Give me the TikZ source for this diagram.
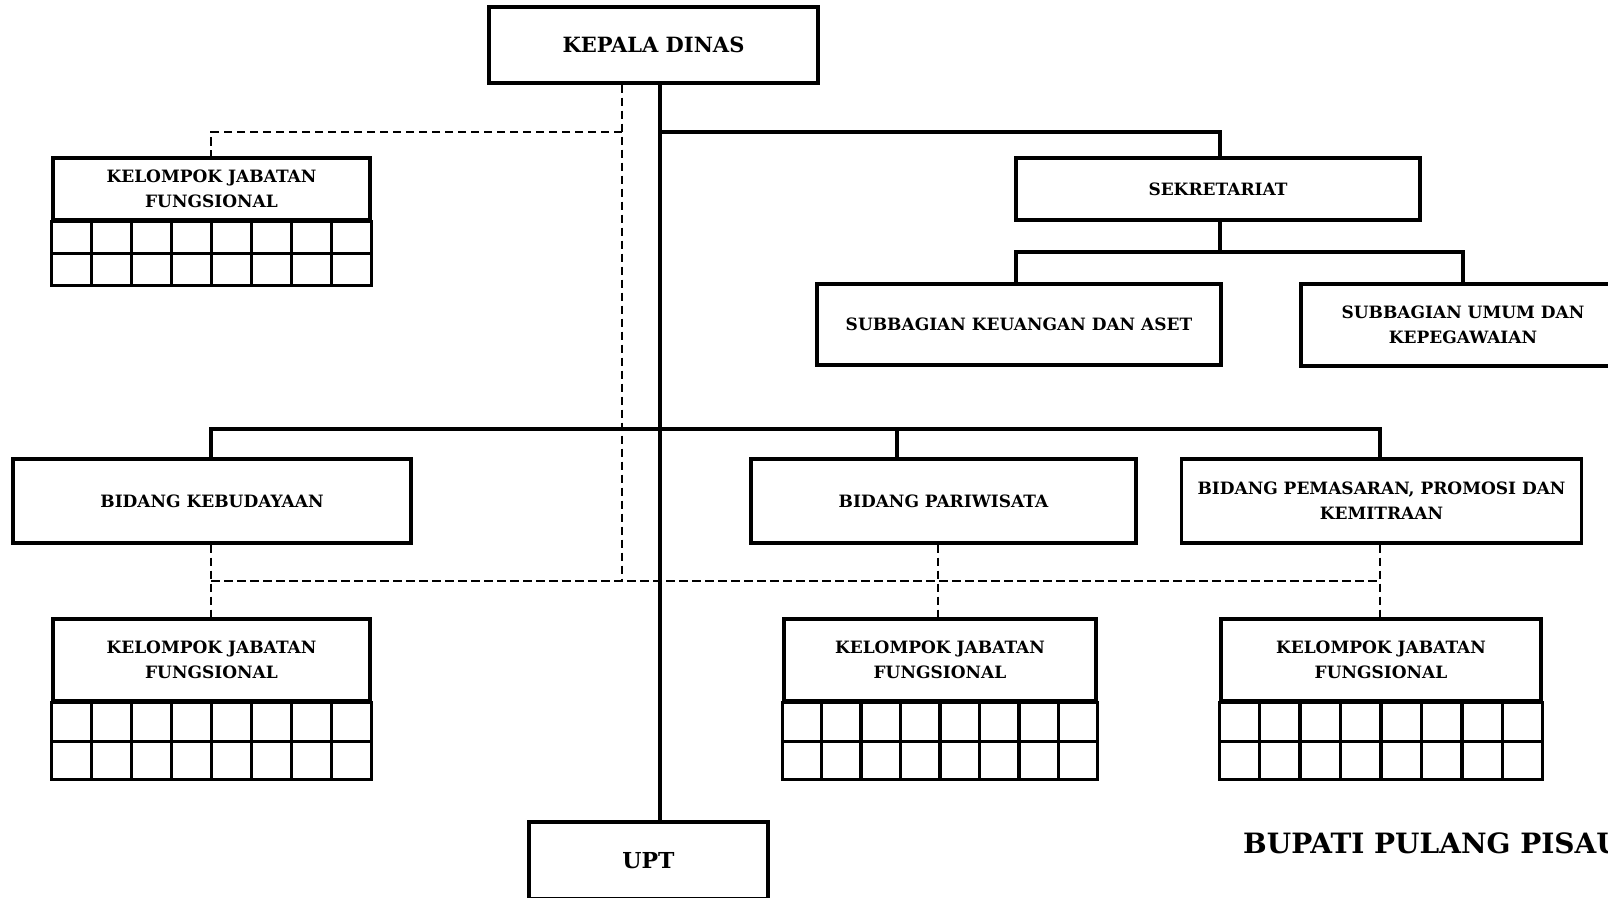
\documentclass[tikz,border=0pt]{standalone}
\usepackage{fontspec}
\setmainfont{DejaVu Serif}
\usetikzlibrary{calc}
\newcommand\kjfgrid[2]{%
  \draw[boxline] (#1.south west) rectangle ($(#1.south east)+(0,#2)$);
  \draw[boxline] ($(#1.south west)+(0,#2/2)$) -- ($(#1.south east)+(0,#2/2)$);
  \foreach \i in {1,...,7}{\draw[boxline] ($(#1.south west)!\i/8!(#1.south east)$) -- ++(0,#2);}
}
\begin{document}
\begin{tikzpicture}[x=1pt,y=-1pt,
  org/.style={draw,line width=3.4pt,inner sep=0pt,align=center,font=\bfseries\fontsize{17}{25}\selectfont},
  conn/.style={line width=3.4pt},
  dconn/.style={line width=2.9pt,dash pattern=on 8.5pt off 4.5pt},
  boxline/.style={line width=3.4pt}]
\useasboundingbox (0,0) rectangle (1608,897);
\clip (0,0) rectangle (1608,897);
\fill[white] (0,0) rectangle (1608,897);

% boxes
\node[org,minimum width=329pt,minimum height=76pt,font=\bfseries\fontsize{21}{25}\selectfont] (kd) at (653.5,45) {KEPALA DINAS};
\node[org,minimum width=317pt,minimum height=62pt] (kjf1) at (211.5,189) {KELOMPOK JABATAN\\FUNGSIONAL};
\node[org,minimum width=404pt,minimum height=62pt] (sek) at (1218,189) {SEKRETARIAT};
\node[org,minimum width=404pt,minimum height=81pt] (sk) at (1019,324.5) {SUBBAGIAN KEUANGAN DAN ASET};
\node[org,minimum width=324pt,minimum height=82pt] (su) at (1463,325) {SUBBAGIAN UMUM DAN\\KEPEGAWAIAN};
\node[org,minimum width=398pt,minimum height=84pt] (bk) at (212,501) {BIDANG KEBUDAYAAN};
\node[org,minimum width=385pt,minimum height=84pt] (bp) at (943.5,501) {BIDANG PARIWISATA};
\node[org,minimum width=400pt,minimum height=84pt] (bpm) at (1381.5,501) {BIDANG PEMASARAN, PROMOSI DAN\\KEMITRAAN};
\node[org,minimum width=317pt,minimum height=82pt] (kjf2) at (211.5,660) {KELOMPOK JABATAN\\FUNGSIONAL};
\node[org,minimum width=312pt,minimum height=82pt] (kjf3) at (940,660) {KELOMPOK JABATAN\\FUNGSIONAL};
\node[org,minimum width=320pt,minimum height=82pt] (kjf4) at (1381,660) {KELOMPOK JABATAN\\FUNGSIONAL};
\node[org,minimum width=239pt,minimum height=77pt,font=\bfseries\fontsize{22}{25}\selectfont] (upt) at (648.5,860.5) {UPT};
\node[anchor=base west,inner sep=0pt,font=\bfseries\fontsize{28}{30}\selectfont] (bup) at (1243,853) {BUPATI PULANG PISAU};

\kjfgrid{kjf1}{64}
\kjfgrid{kjf2}{77}
\kjfgrid{kjf3}{77}
\kjfgrid{kjf4}{77}

% solid connectors
\coordinate (trk) at (660,132);
\coordinate (s1) at (1220,132);
\coordinate (s2) at (1220,252);
\coordinate (sL) at (1016,252);
\coordinate (sR) at (1463,252);
\coordinate (b1) at (211,429);
\coordinate (b2) at (897,429);
\coordinate (b3) at (1380,429);
\draw[conn] (trk |- kd.south) -- (trk |- upt.north);
\draw[conn] (trk) -- (s1) -- (s1 |- sek.north);
\draw[conn] (s2 |- sek.south) -- (s2);
\draw[conn] (sL |- sk.north) -- (sL) -- (sR) -- (sR |- su.north);
\draw[conn] (b1 |- bk.north) -- (b1) -- (b3) -- (b3 |- bpm.north);
\draw[conn] (b2) -- (b2 |- bp.north);

% dashed connectors
\coordinate (d0) at (622,132);
\coordinate (d1) at (211,132);
\coordinate (e0) at (622,581);
\coordinate (e1) at (211,581);
\coordinate (e2) at (938,581);
\coordinate (e3) at (1380,581);
\draw[dconn] (d0 |- kd.south) -- (e0);
\draw[dconn] (d0) -- (d1) -- (d1 |- kjf1.north);
\draw[dconn] (e1 |- bk.south) -- (e1 |- kjf2.north);
\draw[dconn] (e1) -- (e3);
\draw[dconn] (e2 |- bp.south) -- (e2 |- kjf3.north);
\draw[dconn] (e3 |- bpm.south) -- (e3 |- kjf4.north);
\end{tikzpicture}
\end{document}
